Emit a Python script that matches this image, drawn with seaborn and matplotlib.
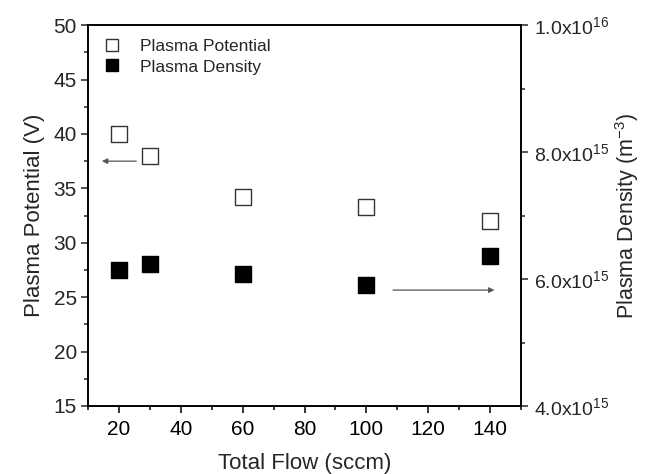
import matplotlib
matplotlib.use("Agg")
import matplotlib.pyplot as plt
import seaborn as sns
import pandas as pd
from matplotlib.ticker import MultipleLocator, FuncFormatter
from matplotlib.lines import Line2D

flow = [20, 30, 60, 100, 140]
potential = [40.0, 38.0, 34.2, 33.3, 32.0]
density = [6.15e15, 6.23e15, 6.08e15, 5.91e15, 6.37e15]

sns.set_theme(style="ticks")
plt.rcParams['font.family'] = ['Liberation Sans', 'DejaVu Sans']
plt.rcParams['mathtext.fontset'] = 'custom'
plt.rcParams['mathtext.rm'] = 'Liberation Sans'
plt.rcParams['mathtext.it'] = 'Liberation Sans'
plt.rcParams['mathtext.default'] = 'regular'

fig = plt.figure(figsize=(6.45, 4.74), dpi=100)
ax = fig.add_axes([0.1364, 0.1435, 0.8078 - 0.1364, 0.947 - 0.1435])
ax2 = ax.twinx()

df = pd.DataFrame({"flow": flow, "potential": potential, "density": density})

sns.scatterplot(data=df, x="flow", y="potential", ax=ax, marker="s", s=120,
                facecolor="white", edgecolor="#333333", linewidth=1.0, legend=False, zorder=3)
sns.scatterplot(data=df, x="flow", y="density", ax=ax2, marker="s", s=120,
                color="black", edgecolor="black", linewidth=1.0, legend=False, zorder=3)

ax.set_xlim(10, 150)
ax.set_ylim(15, 50)
ax2.set_ylim(4e15, 1e16)

ax.xaxis.set_major_locator(MultipleLocator(20))
ax.xaxis.set_minor_locator(MultipleLocator(10))
ax.yaxis.set_major_locator(MultipleLocator(5))
ax.yaxis.set_minor_locator(MultipleLocator(2.5))
ax2.yaxis.set_major_locator(MultipleLocator(2e15))
ax2.yaxis.set_minor_locator(MultipleLocator(1e15))

def sci(v, pos):
    if v <= 0:
        return ""
    exp = int(f"{v:e}".split("e")[1])
    mant = v / 10**exp
    return f"{mant:.1f}x10$^{{{exp}}}$"
ax2.yaxis.set_major_formatter(FuncFormatter(sci))

for a in (ax, ax2):
    for s in a.spines.values():
        s.set_visible(True)
        s.set_linewidth(1.2)
        s.set_color("black")

ax.tick_params(axis="x", which="both", direction="out", bottom=True, top=False,
               labelsize=15, colors="black", width=1.1, pad=5)
ax.tick_params(axis="x", which="major", length=5)
ax.tick_params(axis="x", which="minor", length=3)
ax.tick_params(axis="y", which="both", direction="out", left=True, right=False,
               labelsize=15, width=1.1, pad=3)
ax.tick_params(axis="y", which="major", length=5)
ax.tick_params(axis="y", which="minor", length=3)
ax2.tick_params(axis="y", which="both", direction="out", right=True, labelsize=14,
                width=1.1, pad=4)
ax2.tick_params(axis="y", which="major", length=5)
ax2.tick_params(axis="y", which="minor", length=3)

# top inward ticks via the twin's x axis
ax2.xaxis.set_major_locator(MultipleLocator(20))
ax2.xaxis.set_minor_locator(MultipleLocator(10))
ax2.tick_params(axis="x", which="both", direction="in", top=True, bottom=False,
                labeltop=False, labelbottom=False, width=1.1)
ax2.tick_params(axis="x", which="major", length=5)
ax2.tick_params(axis="x", which="minor", length=3)

ax.set_xlabel("Total Flow (sccm)", fontsize=16, labelpad=10)
ax.set_ylabel("Plasma Potential (V)", fontsize=16, labelpad=6)
ax2.set_ylabel("Plasma Density (m$^{-3}$)", fontsize=15.5, labelpad=3)

ax.annotate("", xy=(13.6, 37.5), xytext=(26.5, 37.5),
            arrowprops=dict(arrowstyle="-|>", color="#555555", lw=0.9, mutation_scale=8))
ax.annotate("", xy=(142.3, 25.65), xytext=(107.7, 25.65),
            arrowprops=dict(arrowstyle="-|>", color="#555555", lw=0.9, mutation_scale=8))

handles = [Line2D([], [], marker="s", ls="", markersize=9, markerfacecolor="white",
                  markeredgecolor="#333333"),
           Line2D([], [], marker="s", ls="", markersize=9, markerfacecolor="black",
                  markeredgecolor="black")]
ax.legend(handles, ["Plasma Potential", "Plasma Density"], loc="upper left",
          frameon=False, fontsize=12.5, handletextpad=1.0, borderaxespad=0.4,
          labelspacing=0.3, handlelength=1.2, bbox_to_anchor=(0.0, 1.0))

fig.savefig("out.png", dpi=100)
